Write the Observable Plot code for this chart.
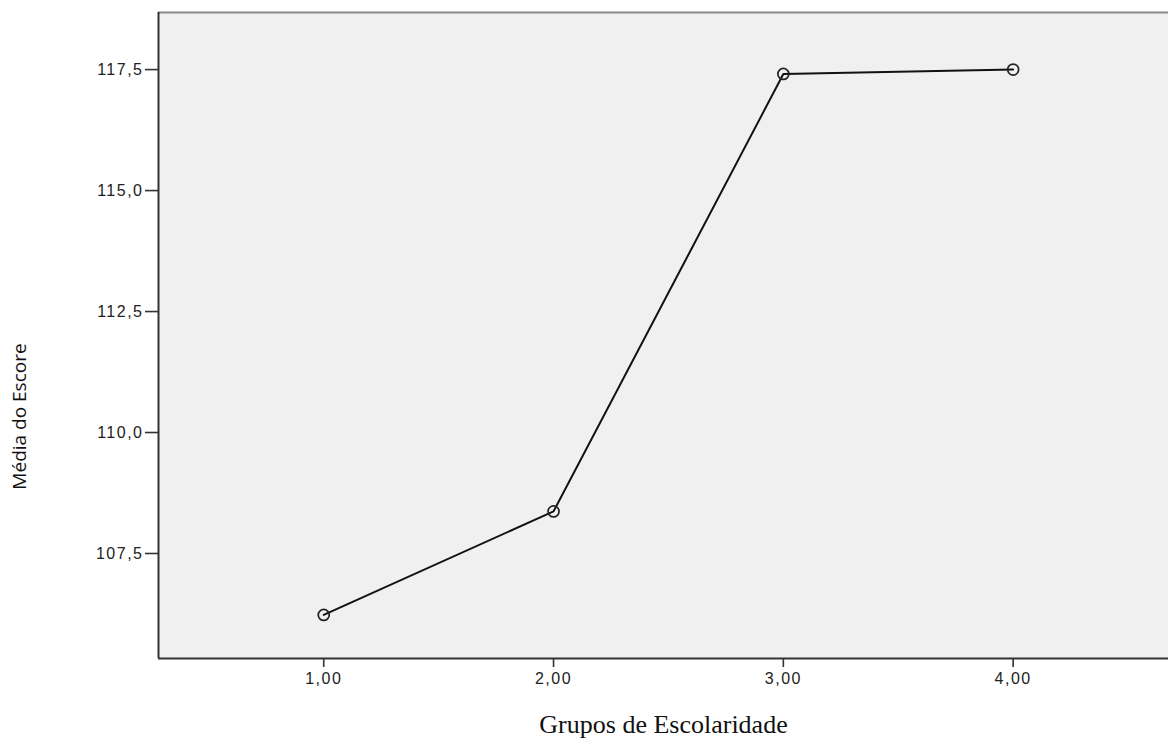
<!DOCTYPE html>
<html>
<head>
<meta charset="utf-8">
<script src="https://cdn.jsdelivr.net/npm/d3@7"></script>
<script src="https://cdn.jsdelivr.net/npm/@observablehq/plot@0.6"></script>
<style>
  html, body { margin: 0; padding: 0; background: #fff; }
  #chart svg { display: block; }
  #chart g[aria-label="y-axis tick label"] text,
  #chart g[aria-label="x-axis tick label"] text {
    font-family: "Liberation Sans", Arial, sans-serif;
    font-size: 16px;
    letter-spacing: 1.5px;
  }
</style>
</head>
<body>
<div id="chart"></div>
<script>
// Mean score by schooling group
const grupos = [1, 2, 3, 4];
const medias = [106.23, 108.37, 117.41, 117.5];
const yTicks = [107.5, 110.0, 112.5, 115.0, 117.5];
const xTicks = [1, 2, 3, 4];
const xDomain = [0.281, 4.676];
const yDomain = [105.33, 118.68];

const rows = grupos.map((g, i) => ({grupo: g, media: medias[i]}));
const virgula = (d, casas) => d.toFixed(casas).replace(".", ",");

const chart = Plot.plot({
  width: 1168,
  height: 740,
  marginLeft: 158,
  marginRight: 0,
  marginTop: 12,
  marginBottom: 82,
  style: {background: "#fff", fontSize: "16px"},
  x: {domain: xDomain, axis: null},
  y: {domain: yDomain, axis: null},
  marks: [
    Plot.frame({fill: "#f0f0f0", stroke: null}),
    // plot borders: gray top, dark left and bottom
    Plot.ruleY([yDomain[1]], {stroke: "#8a8a8a", strokeWidth: 2}),
    Plot.ruleX([xDomain[0]], {stroke: "#333", strokeWidth: 2}),
    Plot.ruleY([yDomain[0]], {stroke: "#333", strokeWidth: 2}),
    Plot.axisY(yTicks, {
      tickSize: 13, tickPadding: 2, tickFormat: d => virgula(d, 1),
      stroke: "#333", strokeWidth: 1.6, fill: "#222", label: null
    }),
    Plot.axisX(xTicks, {
      tickSize: 9, tickPadding: 5, tickFormat: d => virgula(d, 2),
      stroke: "#333", strokeWidth: 1.6, fill: "#222", label: null
    }),
    Plot.line(rows, {x: "grupo", y: "media", stroke: "#111", strokeWidth: 2}),
    Plot.dot(rows, {x: "grupo", y: "media", r: 5.5, stroke: "#222", strokeWidth: 1.7, fill: "none"}),
    Plot.text(["Média do Escore"], {
      frameAnchor: "left", textAnchor: "middle", dx: -139, dy: 81, rotate: -90,
      fontSize: 19, fontFamily: "Open Sans, Noto Sans, sans-serif", fill: "#111"
    }),
    Plot.text(["Grupos de Escolaridade"], {
      frameAnchor: "bottom", dy: 74,
      fontSize: 26, fontFamily: "Liberation Serif, Times New Roman, serif", fill: "#111"
    })
  ]
});
document.getElementById("chart").appendChild(chart);
</script>
</body>
</html>
